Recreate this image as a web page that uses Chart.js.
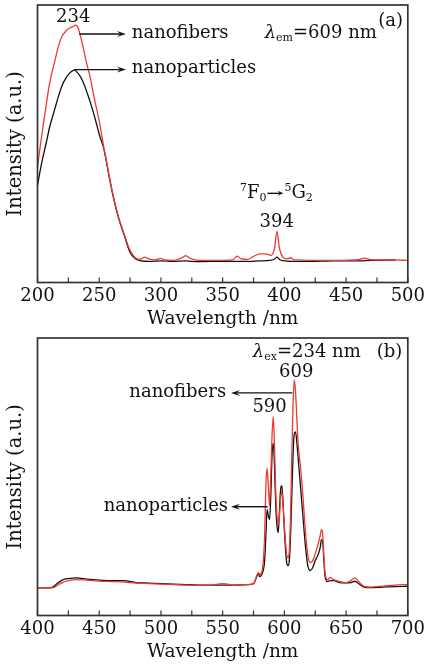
<!DOCTYPE html>
<html>
<head>
<meta charset="utf-8">
<script src="https://cdn.jsdelivr.net/npm/chart.js@4.4.1/dist/chart.umd.min.js"></script>
<style>
  html, body { margin: 0; padding: 0; background: #fff; }
  canvas { display: block; }
</style>
</head>
<body>
<canvas id="chartA" width="428" height="333"></canvas>
<canvas id="chartB" width="428" height="333"></canvas>
<script>
// (a) excitation spectra, lambda_em = 609 nm
const excWlFibers = [200,202,205,207,210,214,217,220,223,226,228,231,233,235,237,239,243,246,250,254,258,262,266,270,275,279,283,287,290,295,300,303,310,316,320,324,330,340,350,358,362,365,370,375,380,385,389,392,394,396,399,402,405,408,412,420,430,440,450,460,465,470,480,490,500];
const excFibers = [115,134,160,177,200,221,236,246,251,254,255,257,254,245,235,223,203,184,161,133,107,83,64,49,32,25,23,25.3,23.5,22.5,24,22.5,22,24,26.7,24,22,22,22,22.5,26.3,23.5,23,26,28.5,28.5,27,34,51,34,25,23.5,24.7,22.5,22.5,22,22,22,22.2,22.7,24.3,22.7,22.5,22.5,22];
const excWlParticles = [200,203,207,210,214,217,220,223,226,230,232,235,238,240,243,247,250,254,258,262,266,270,275,279,284,290,300,310,320,330,340,350,360,370,380,388,392,394,396,400,410,420,440,460,470,480,490];
const excParticles = [97,117,139,156,173,186,197,204,209,212,210,205,197,190,179,162,148,132,106,82,63,48,30,24,21.5,21,21.5,21,21.5,20.8,21,21,21,21,21.5,22,23.5,25.3,23,21.5,21,21,21.5,21.5,22,22.3,22.3];
const ticksA = [200,250,300,350,400,450,500];

// (b) emission spectra, lambda_ex = 234 nm
const emWl = [400,410,413,416,420,425,432,440,450,460,470,480,490,500,510,520,530,540,550,560,570,575,578,579,580,582,584,585,586,587,588,589,590,591,592,593,594,595,596,597,598,599,600,601,602,603,604,605,606,607,608,609,610,611,612,613,615,617,619,621,623,625,627,629,630,631,632,633,635,637,640,645,650,654,657,660,665,670,680,690,700];
const emFibers = [27.7,27.7,28,30,33,35,36,35.5,34.5,34,33.5,32.5,32,31.5,31,30.5,30.5,30.5,32,30.5,31,32,41,43,41,45,80,130,147.7,130,110,140,180,199.3,170,125,100,91,100,118,124,110,90,72,60,58,65,100,160,210,236,225,200,175,160,150,120,85,60,53,55,62,70,80,86,82,60,42,36,38,36,34,33,35,37.7,34,29,28.5,29.5,30.5,31];
const emParticles = [27.7,27.7,29,32,35.5,37,37.7,36.5,35.5,35,35,33,32.5,32,31.5,31,30.5,30.5,30.5,30.5,31,32,40,42,39,42,55,80,106,100,96,120,160,172.7,150,110,90,83,105,127,130,110,85,65,52,50,55,80,120,160,182,184,175,160,145,130,100,70,50,45,48,55,60,68,76,74,55,39,34,35,35,33,32.7,33,34.3,32,28.3,28,28.5,29,29.3];
const ticksB = [400,450,500,550,600,650,700];

const RED = '#ee3a2e';
const INK = '#111';
const SERIF = "'DejaVu Serif', serif";

function pts(xs, ys) {
    return xs.map((x, i) => ({ x: x, y: ys[i] }));
}

function drawRich(ctx, x, y, parts, align) {
    const fontOf = p => (p.italic ? 'italic ' : '') + (p.size || 18) + 'px ' + SERIF;
    let total = 0;
    parts.forEach(p => {
        if (p.arrow) { total += p.arrow; return; }
        ctx.font = fontOf(p);
        total += ctx.measureText(p.t).width;
    });
    let cx = align === 'center' ? x - total / 2 : align === 'right' ? x - total : x;
    ctx.textBaseline = 'middle';
    ctx.textAlign = 'left';
    ctx.fillStyle = INK;
    parts.forEach(p => {
        if (p.arrow) {
            arrow(ctx, cx + 1, y + (p.dy || 0), cx + p.arrow - 1, y + (p.dy || 0), 6, 2.5);
            cx += p.arrow;
            return;
        }
        ctx.font = fontOf(p);
        ctx.fillText(p.t, cx, y + (p.dy || 0));
        cx += ctx.measureText(p.t).width;
    });
}

function arrow(ctx, x1, y1, x2, y2, head, half) {
    const dir = Math.sign(x2 - x1);
    ctx.save();
    ctx.strokeStyle = INK;
    ctx.fillStyle = INK;
    ctx.lineWidth = 1.4;
    ctx.beginPath();
    ctx.moveTo(x1, y1);
    ctx.lineTo(x2 - dir * head * 0.6, y2);
    ctx.stroke();
    ctx.beginPath();
    ctx.moveTo(x2, y2);
    ctx.lineTo(x2 - dir * head, y2 - half);
    ctx.lineTo(x2 - dir * head * 0.6, y2);
    ctx.lineTo(x2 - dir * head, y2 + half);
    ctx.closePath();
    ctx.fill();
    ctx.restore();
}

// frame round the plot plus inward tick marks on the bottom axis
const frame = {
    id: 'frame',
    afterDraw(chart) {
        const { ctx, chartArea: a, scales: { x } } = chart;
        ctx.save();
        ctx.strokeStyle = '#333';
        ctx.lineWidth = 1.7;
        ctx.strokeRect(a.left, a.top, a.right - a.left, a.bottom - a.top);
        ctx.lineWidth = 1.2;
        ctx.beginPath();
        x.ticks.forEach(t => {
            const px = x.getPixelForValue(t.value);
            ctx.moveTo(px, a.bottom);
            ctx.lineTo(px, a.bottom - 5);
        });
        ctx.stroke();
        ctx.restore();
    }
};

function notesPlugin(notes) {
    return {
        id: 'notes',
        afterDatasetsDraw(chart) {
            const { ctx, scales: { x, y } } = chart;
            ctx.save();
            notes.forEach(n => {
                if (n.arrow) {
                    arrow(ctx, x.getPixelForValue(n.from), y.getPixelForValue(n.y),
                        x.getPixelForValue(n.to), y.getPixelForValue(n.y), 9, 3);
                } else {
                    drawRich(ctx, x.getPixelForValue(n.x), y.getPixelForValue(n.y), n.parts, n.align);
                }
            });
            ctx.restore();
        }
    };
}

function makeChart(id, xMin, xMax, yMax, tickList, series, notes) {
    new Chart(document.getElementById(id), {
        type: 'scatter',
        data: {
            datasets: series.map(s => ({
                data: s.data,
                showLine: true,
                borderColor: s.color,
                borderWidth: 1.3,
                pointRadius: 0,
                cubicInterpolationMode: 'monotone',
            })),
        },
        options: {
            responsive: false,
            animation: false,
            devicePixelRatio: 1,
            layout: { padding: { top: 5, right: 16.5, left: 0, bottom: 0 } },
            plugins: { legend: { display: false }, tooltip: { enabled: false } },
            scales: {
                x: {
                    type: 'linear',
                    min: xMin,
                    max: xMax,
                    grid: { display: false, drawTicks: false },
                    border: { display: false },
                    ticks: {
                        stepSize: 25,
                        autoSkip: false,
                        maxRotation: 0,
                        padding: 3,
                        color: INK,
                        font: { family: SERIF, size: 18 },
                        callback: v => tickList.includes(v) ? String(v) : '',
                    },
                    title: {
                        display: true,
                        text: 'Wavelength /nm',
                        color: INK,
                        font: { family: SERIF, size: 18.5 },
                        padding: { top: 0, bottom: 3 },
                    },
                    afterFit: s => { s.height = 50.5; },
                },
                y: {
                    min: 0,
                    max: yMax,
                    grid: { display: false, drawTicks: false },
                    border: { display: false },
                    ticks: { display: false },
                    title: {
                        display: true,
                        text: 'Intensity (a.u.)',
                        color: INK,
                        font: { family: SERIF, size: 19.5 },
                        padding: { top: 4, bottom: 0 },
                    },
                    afterFit: s => { s.width = 37.5; },
                },
            },
        },
        plugins: [frame, notesPlugin(notes)],
    });
}

makeChart('chartA', 200, 500, 277, ticksA, [
    { data: pts(excWlFibers, excFibers), color: RED },
    { data: pts(excWlParticles, excParticles), color: INK },
], [
    { x: 229, y: 265, align: 'center', parts: [{ t: '234' }] },
    { arrow: true, from: 233.8, to: 271.6, y: 248 },
    { x: 276.4, y: 249, align: 'left', parts: [{ t: 'nanofibers' }] },
    { arrow: true, from: 229.8, to: 271.6, y: 212.5 },
    { x: 276.4, y: 214, align: 'left', parts: [{ t: 'nanoparticles' }] },
    { x: 384, y: 249, align: 'left', parts: [{ t: 'λ', italic: true }, { t: 'em', size: 11, dy: 5 }, { t: '=609 nm' }] },
    { x: 486, y: 261, align: 'center', parts: [{ t: '(a)' }] },
    { x: 364, y: 89, align: 'left', parts: [{ t: '7', size: 11, dy: -5 }, { t: 'F' }, { t: '0', size: 11, dy: 5 }, { arrow: 18 }, { t: '5', size: 11, dy: -5 }, { t: 'G' }, { t: '2', size: 11, dy: 5 }] },
    { x: 393.8, y: 60, align: 'center', parts: [{ t: '394' }] },
]);

makeChart('chartB', 400, 700, 278, ticksB, [
    { data: pts(emWl, emFibers), color: RED },
    { data: pts(emWl, emParticles), color: INK },
], [
    { x: 574.4, y: 264, align: 'left', parts: [{ t: 'λ', italic: true }, { t: 'ex', size: 11, dy: 5 }, { t: '=234 nm' }] },
    { x: 685.2, y: 264, align: 'center', parts: [{ t: '(b)' }] },
    { x: 609.6, y: 244, align: 'center', parts: [{ t: '609' }] },
    { x: 552.8, y: 224, align: 'right', parts: [{ t: 'nanofibers' }] },
    { arrow: true, from: 606.4, to: 556.8, y: 223 },
    { x: 588, y: 209, align: 'center', parts: [{ t: '590' }] },
    { x: 554.4, y: 109, align: 'right', parts: [{ t: 'nanoparticles' }] },
    { arrow: true, from: 586.4, to: 556.8, y: 109 },
]);
</script>
</body>
</html>
